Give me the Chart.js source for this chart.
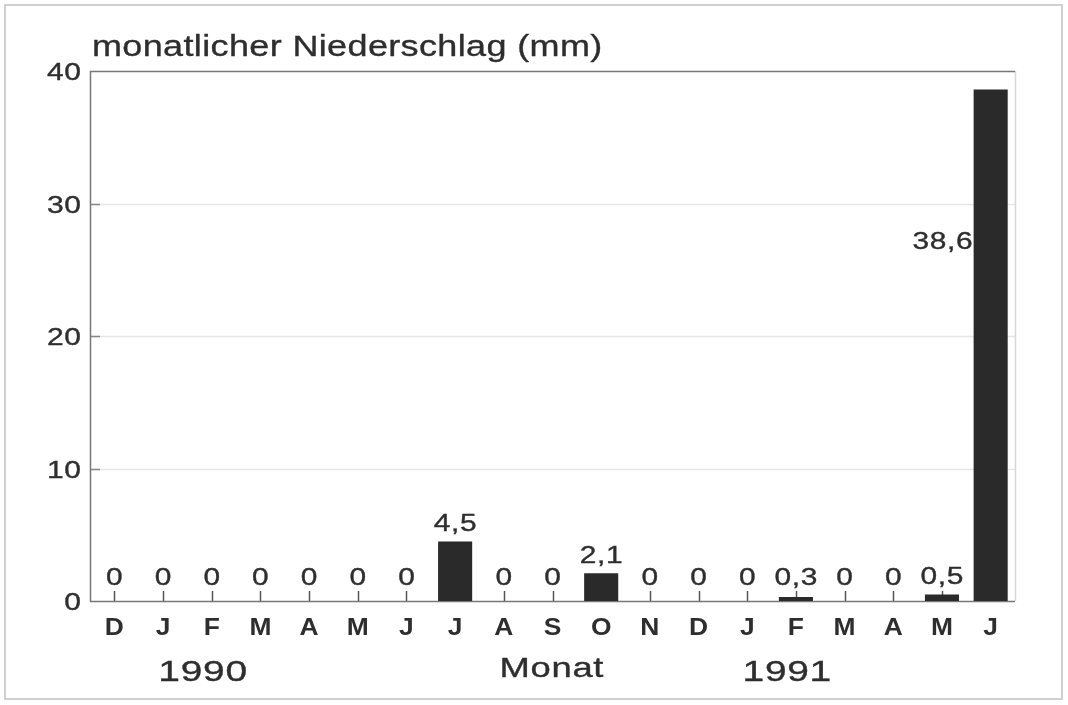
<!DOCTYPE html>
<html>
<head>
<meta charset="utf-8">
<script src="https://cdn.jsdelivr.net/npm/chart.js@4.4.1/dist/chart.umd.min.js"></script>
<style>
  html, body { margin: 0; padding: 0; background: #fff; }
  #wrap { position: relative; width: 1068px; height: 705px; }
</style>
</head>
<body>
<div id="wrap"><canvas id="rain"></canvas></div>
<script>
// Monatlicher Niederschlag Dez 1990 – Jun 1991
const months = ['D', 'J', 'F', 'M', 'A', 'M', 'J', 'J', 'A', 'S', 'O', 'N', 'D', 'J', 'F', 'M', 'A', 'M', 'J'];
const rainMm = [0, 0, 0, 0, 0, 0, 0, 4.5, 0, 0, 2.1, 0, 0, 0, 0.3, 0, 0, 0.5, 38.6];
const yTicks = [0, 10, 20, 30, 40];
const yearLabels = [{ text: '1990', at: 2 }, { text: 'Monat', at: 9 }, { text: '1991', at: 14 }];

const FONT = '"Liberation Sans", Arial, sans-serif';
const INK = '#2e2e2e';

const fmt = v => String(v).replace('.', ',');

// the scanned lettering is a wide grotesque:
// draw Liberation Sans stretched sideways with a hairline stroke
function wideText(ctx, text, x, y, o) {
  ctx.save();
  ctx.font = (o.bold ? 'bold ' : '') + o.size + 'px ' + FONT;
  ctx.letterSpacing = (o.sp || 0) + 'px';
  ctx.textBaseline = 'alphabetic';
  ctx.textAlign = 'left';
  const sx = o.sx || 1.3;
  const w = (ctx.measureText(text).width - (o.sp || 0)) * sx;
  let left = x;
  if (o.align === 'center') left = x - w / 2;
  else if (o.align === 'right') left = x - w;
  ctx.translate(left, y);
  ctx.scale(sx, 1);
  ctx.fillStyle = INK;
  ctx.fillText(text, 0, 0);
  if (!o.bold) {
    ctx.strokeStyle = INK;
    ctx.lineWidth = 0.35;
    ctx.strokeText(text, 0, 0);
  }
  ctx.restore();
}

// frame, axes, inner ticks, labels
const decor = {
  id: 'decor',
  beforeDatasetsDraw(chart) {
    const { ctx, chartArea: a, scales: { x, y } } = chart;
    ctx.save();
    // faint grid
    ctx.strokeStyle = '#e6e6e6';
    ctx.lineWidth = 1.5;
    yTicks.slice(1, -1).forEach(v => {
      const py = Math.round(y.getPixelForValue(v)) + 0.5;
      ctx.beginPath(); ctx.moveTo(a.left, py); ctx.lineTo(a.right, py); ctx.stroke();
    });
    // inner y ticks
    ctx.strokeStyle = '#888';
    yTicks.slice(1, -1).forEach(v => {
      const py = Math.round(y.getPixelForValue(v)) + 0.5;
      ctx.beginPath(); ctx.moveTo(a.left, py); ctx.lineTo(a.left + 10, py); ctx.stroke();
    });
    // inner x ticks
    ctx.strokeStyle = '#555';
    months.forEach((m, i) => {
      const px = Math.round(x.getPixelForValue(i)) + 0.5;
      ctx.beginPath(); ctx.moveTo(px, a.bottom); ctx.lineTo(px, a.bottom - 10); ctx.stroke();
    });
    // right border, faint
    ctx.strokeStyle = '#d8d8d8';
    ctx.beginPath(); ctx.moveTo(a.right + 0.5, a.top); ctx.lineTo(a.right + 0.5, a.bottom); ctx.stroke();
    // left, top, bottom
    ctx.strokeStyle = '#777';
    ctx.lineWidth = 1.5;
    ctx.beginPath();
    ctx.moveTo(a.right, a.top + 0.5); ctx.lineTo(a.left + 0.5, a.top + 0.5);
    ctx.lineTo(a.left + 0.5, a.bottom + 0.5); ctx.lineTo(a.right, a.bottom + 0.5);
    ctx.stroke();
    ctx.restore();
  },
  afterDatasetsDraw(chart) {
    const { ctx, chartArea: a, scales: { x, y } } = chart;
    const meta = chart.getDatasetMeta(0);

    // y tick labels
    yTicks.forEach(v => {
      wideText(ctx, String(v), 81, y.getPixelForValue(v) + 9, { size: 24, sx: 1.25, align: 'right', sp: 0.5 });
    });
    // month labels
    months.forEach((m, i) => {
      wideText(ctx, m, x.getPixelForValue(i), a.bottom + 34, { size: 24, bold: true, sx: 1.1, align: 'center' });
    });
    // value labels
    rainMm.forEach((v, i) => {
      const bar = meta.data[i];
      if (v > 30) {
        // label placed beside the tall bar
        wideText(ctx, fmt(v), bar.x - bar.width / 2 - 1, y.getPixelForValue(v * 0.705) + 9,
          { size: 23, sx: 1.3, align: 'right', sp: 0.5 });
        return;
      }
      const base = Math.min(bar.y - 10, a.bottom - 16);
      wideText(ctx, fmt(v), bar.x, base, { size: 23, sx: 1.3, align: 'center', sp: 0.5 });
    });
    // years and axis title
    yearLabels.forEach(l => {
      const isTitle = l.text === 'Monat';
      wideText(ctx, l.text, x.getPixelForValue(l.at) + (isTitle ? -1 : -9), isTitle ? 677 : 681,
        { size: isTitle ? 28 : 30, sx: 1.3, align: 'center', sp: 0.5 });
    });
    // title
    wideText(ctx, 'monatlicher Niederschlag (mm)', 92, 56, { size: 30, sx: 1.2, sp: 0.3 });

    // outer frame
    ctx.save();
    ctx.strokeStyle = '#d0d0d0';
    ctx.lineWidth = 2;
    ctx.strokeRect(5, 5, 1057, 694);
    ctx.restore();
  }
};

new Chart(document.getElementById('rain'), {
  type: 'bar',
  data: {
    labels: months,
    datasets: [{
      data: rainMm,
      backgroundColor: '#2a2a2a',
      borderWidth: 0,
      barPercentage: 0.7,
      categoryPercentage: 1
    }]
  },
  options: {
    responsive: true,
    maintainAspectRatio: false,
    animation: false,
    layout: { padding: { top: 71, right: 53, bottom: 0, left: 0 } },
    plugins: { legend: { display: false }, tooltip: { enabled: false } },
    scales: {
      x: {
        grid: { display: false },
        border: { display: false },
        ticks: { display: false },
        afterFit: s => { s.height = 104; }
      },
      y: {
        min: 0,
        max: 40,
        afterBuildTicks: s => { s.ticks = yTicks.map(v => ({ value: v })); },
        grid: { display: false },
        border: { display: false },
        ticks: { display: false },
        afterFit: s => { s.width = 90; }
      }
    }
  },
  plugins: [decor]
});
</script>
</body>
</html>
